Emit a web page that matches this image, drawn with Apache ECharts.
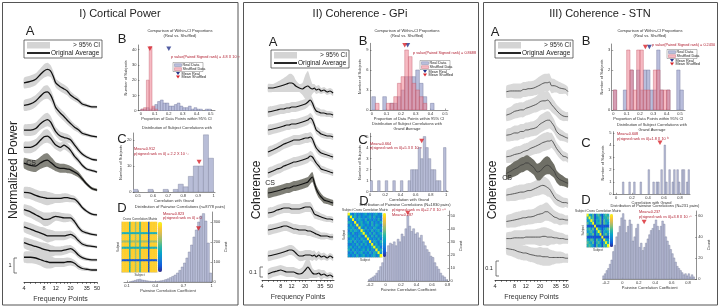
<!DOCTYPE html>
<html>
<head>
<meta charset="utf-8">
<script src="https://cdn.jsdelivr.net/npm/echarts@6/dist/echarts.min.js"></script>
<style>html,body{margin:0;padding:0;background:#fff}#main{width:720px;height:308px}</style>
</head>
<body>
<div id="main"></div>
<script>
// ---- data ----
var freqTicks = [4, 8, 12, 20, 35, 50];
var freqMinorTicks = [4, 5, 6, 7, 8, 9, 10, 12, 14, 16, 18, 20, 25, 30, 35, 40, 45, 50];

// I) cortical power: height of each subject curve above its own tail (normalized power)
var powerFreq = [4, 5, 6, 7, 8, 9, 10, 11, 12, 14, 16, 18, 20, 23, 26, 30, 35, 42, 50];
var powerCurves = [
  [1.6, 1.7, 1.85, 2.15, 2.4, 2.5, 2.4, 2.05, 1.6, 1.35, 1.2, 1.05, 0.8, 0.6, 0.45, 0.2, 0.1, 0, 0],
  [2.1, 2.2, 2.4, 2.7, 2.95, 3.0, 2.8, 2.4, 1.95, 1.6, 1.35, 1.1, 0.9, 0.65, 0.5, 0.25, 0.15, 0.05, 0],
  [2.0, 2.0, 2.1, 2.4, 2.6, 2.7, 2.55, 2.2, 1.9, 1.6, 1.5, 1.45, 1.35, 1.0, 0.7, 0.4, 0.2, 0.05, 0],
  [1.65, 1.65, 1.8, 2.1, 2.35, 2.4, 2.25, 2.0, 1.8, 1.65, 1.8, 1.65, 1.45, 1.05, 0.8, 0.45, 0.2, 0.1, 0],
  [1.8, 1.65, 1.6, 1.8, 1.95, 2.0, 1.85, 1.7, 1.55, 1.45, 1.45, 1.4, 1.35, 1.2, 1.05, 0.75, 0.4, 0.1, 0],
  [1.5, 1.45, 1.3, 1.2, 1.15, 1.1, 1.1, 1.1, 1.1, 1.1, 1.15, 1.15, 1.1, 1.05, 0.85, 0.5, 0.25, 0.05, 0],
  [1.7, 1.55, 1.35, 1.2, 1.05, 1.05, 1.1, 1.2, 1.25, 1.2, 1.15, 1.15, 1.15, 0.9, 0.55, 0.25, 0.15, 0.05, 0],
  [1.35, 1.2, 1.05, 0.95, 0.85, 0.75, 0.75, 0.75, 0.75, 0.75, 0.75, 0.8, 0.85, 0.7, 0.45, 0.2, 0.1, 0.05, 0],
  [1.15, 1.0, 0.9, 0.8, 0.7, 0.65, 0.6, 0.6, 0.6, 0.6, 0.65, 0.7, 0.75, 0.6, 0.35, 0.15, 0.05, 0, 0],
  [0.85, 0.85, 0.8, 0.7, 0.6, 0.55, 0.5, 0.5, 0.5, 0.5, 0.5, 0.55, 0.55, 0.45, 0.25, 0.1, 0.05, 0, 0]
];
var powerCI = [0.35, 0.4, 0.4, 0.4, 0.45, 0.45, 0.4, 0.35, 0.3, 0.3, 0.3, 0.28, 0.25, 0.22, 0.2, 0.15, 0.12, 0.1, 0.08];

// II) coherence GPi
var gpiFreq = [5, 6, 7, 8, 9, 10, 11, 12, 13, 14, 16, 18, 20, 22, 24, 26, 28, 30, 33, 36, 40, 45, 50, 56];
var gpiCurves = [
  [0.05, 0.05, 0.06, 0.07, 0.08, 0.09, 0.10, 0.10, 0.09, 0.07, 0.05, 0.04, 0.06, 0.07, 0.05, 0.04, 0.05, 0.03, 0.04, 0.02, 0.03, 0.01, 0.02, 0],
  [0.03, 0.04, 0.05, 0.06, 0.06, 0.07, 0.07, 0.08, 0.08, 0.08, 0.09, 0.10, 0.11, 0.13, 0.15, 0.12, 0.07, 0.04, 0.03, 0.02, 0.02, 0.01, 0.01, 0],
  [0.07, 0.08, 0.09, 0.10, 0.11, 0.12, 0.12, 0.13, 0.13, 0.13, 0.14, 0.15, 0.16, 0.17, 0.19, 0.17, 0.12, 0.07, 0.05, 0.03, 0.02, 0.01, 0.01, 0],
  [0.05, 0.07, 0.09, 0.11, 0.13, 0.14, 0.15, 0.16, 0.17, 0.17, 0.17, 0.18, 0.19, 0.19, 0.20, 0.18, 0.13, 0.09, 0.06, 0.04, 0.03, 0.02, 0.01, 0],
  [0.0, 0.02, 0.04, 0.05, 0.07, 0.08, 0.09, 0.10, 0.11, 0.11, 0.12, 0.13, 0.14, 0.15, 0.17, 0.16, 0.13, 0.10, 0.07, 0.04, 0.03, 0.02, 0.01, 0],
  [0.10, 0.11, 0.12, 0.13, 0.14, 0.15, 0.15, 0.16, 0.17, 0.17, 0.18, 0.19, 0.20, 0.21, 0.24, 0.26, 0.20, 0.14, 0.09, 0.06, 0.03, 0.02, 0.01, 0],
  [0.07, 0.08, 0.10, 0.11, 0.12, 0.12, 0.12, 0.11, 0.11, 0.11, 0.11, 0.12, 0.13, 0.13, 0.13, 0.10, 0.06, 0.05, 0.04, 0.03, 0.02, 0.01, 0.01, 0],
  [0.07, 0.08, 0.09, 0.10, 0.11, 0.11, 0.10, 0.09, 0.08, 0.08, 0.07, 0.07, 0.07, 0.06, 0.06, 0.05, 0.04, 0.03, 0.02, 0.01, 0.01, 0.01, 0.0, 0],
  [0.02, 0.03, 0.04, 0.05, 0.06, 0.07, 0.08, 0.08, 0.07, 0.05, 0.02, 0.02, 0.03, 0.03, 0.03, 0.02, 0.03, 0.01, 0.03, 0.01, 0.02, 0.0, 0.02, 0],
  [0.03, 0.05, 0.06, 0.07, 0.06, 0.05, 0.05, 0.05, 0.05, 0.04, 0.03, 0.04, 0.07, 0.10, 0.07, 0.04, 0.03, 0.03, 0.04, 0.02, 0.03, 0.01, 0.02, 0]
];
var gpiCI = [0.05, 0.05, 0.05, 0.05, 0.05, 0.05, 0.05, 0.05, 0.05, 0.05, 0.05, 0.05, 0.05, 0.05, 0.05, 0.05, 0.045, 0.04, 0.04, 0.035, 0.035, 0.03, 0.03, 0.03];
var gpiWideCI = {
  0: [0.04, 0.04, 0.05, 0.06, 0.07, 0.08, 0.09, 0.09, 0.08, 0.06, 0.04, 0.06, 0.12, 0.15, 0.10, 0.05, 0.04, 0.04, 0.04, 0.03, 0.03, 0.03, 0.03, 0.03],
  9: [0.05, 0.05, 0.05, 0.05, 0.05, 0.05, 0.05, 0.05, 0.05, 0.05, 0.05, 0.06, 0.09, 0.12, 0.08, 0.05, 0.04, 0.04, 0.04, 0.05, 0.04, 0.03, 0.03, 0.03]
};

// III) coherence STN
var stnFreq = [6, 7, 8, 9, 10, 11, 12, 13, 14, 16, 18, 20, 22, 24, 26, 28, 30, 33, 36, 40, 45, 50, 54];
var stnCurves = [
  [0, 0.005, 0.005, 0.005, 0.005, 0.015, 0.015, 0.02, 0.02, 0.025, 0.035, 0.045, 0.055, 0.06, 0.06, 0.065, 0.04, 0.04, 0.035, 0.025, 0.02, 0.015, 0],
  [0.01, 0.02, 0.035, 0.04, 0.045, 0.045, 0.055, 0.06, 0.065, 0.075, 0.085, 0.1, 0.105, 0.105, 0.11, 0.1, 0.08, 0.06, 0.04, 0.02, 0.005, 0, 0],
  [0.02, 0.025, 0.035, 0.035, 0.045, 0.045, 0.055, 0.055, 0.06, 0.065, 0.075, 0.095, 0.105, 0.115, 0.12, 0.12, 0.105, 0.08, 0.045, 0.025, 0.015, 0.005, 0],
  [0.01, 0.015, 0.025, 0.03, 0.035, 0.045, 0.05, 0.055, 0.065, 0.075, 0.085, 0.095, 0.105, 0.11, 0.115, 0.115, 0.12, 0.095, 0.065, 0.04, 0.015, 0.01, 0],
  [0.065, 0.08, 0.095, 0.105, 0.12, 0.125, 0.135, 0.135, 0.125, 0.105, 0.075, 0.08, 0.1, 0.115, 0.12, 0.115, 0.1, 0.08, 0.045, 0.025, 0.015, 0.005, 0],
  [0.055, 0.06, 0.065, 0.07, 0.075, 0.075, 0.08, 0.085, 0.085, 0.095, 0.105, 0.115, 0.12, 0.115, 0.105, 0.095, 0.075, 0.045, 0.025, 0.015, 0.005, 0.005, 0],
  [-0.01, -0.005, 0, 0.005, 0.01, 0.015, 0.015, 0.02, 0.02, 0.025, 0.035, 0.04, 0.045, 0.055, 0.055, 0.045, 0.035, 0.02, 0.015, 0.005, 0.005, 0, 0],
  [0.005, 0.005, 0.01, 0.01, 0.01, 0.01, 0.015, 0.015, 0.015, 0.015, 0.015, 0.015, 0.02, 0.02, 0.015, 0.015, 0.015, 0.01, 0.01, 0.005, 0.005, 0, 0],
  [0.065, 0.06, 0.055, 0.045, 0.04, 0.035, 0.035, 0.03, 0.025, 0.02, 0.015, 0.015, 0.01, 0.01, 0.01, 0.005, 0.005, 0.005, 0.005, 0.005, 0.005, 0, 0]
];
var stnCI = [0.04, 0.045, 0.05, 0.05, 0.05, 0.05, 0.05, 0.05, 0.05, 0.05, 0.055, 0.06, 0.06, 0.06, 0.06, 0.055, 0.05, 0.045, 0.04, 0.04, 0.035, 0.03, 0.03];

// B: proportion of points within CI (counts per bin)
var powerWithinReal = [1, 1, 2, 1, 2, 4, 6, 7, 5, 5, 3, 3, 4, 5, 3, 2, 2, 3, 1, 2, 1, 1, 0, 1, 1];
var powerWithinShuf = [1, 2, 20, 42, 3, 1, 0, 0, 0, 0, 0, 0, 0, 0, 0, 0, 0, 0, 0, 0, 0, 0, 0, 0, 0];
var gpiWithinReal = [2, 0, 0, 2, 0, 1, 1, 2, 3, 5, 5, 5, 6, 4, 2, 0, 1, 0, 0, 0];
var gpiWithinShuf = [0, 1, 0, 0, 1, 1, 2, 4, 5, 9, 8, 4, 3, 2, 1, 0, 0, 0, 0, 0];
var stnWithinReal = [1, 0, 0, 1, 0, 2, 0, 2, 1, 2, 2, 1, 1, 3, 1, 0, 1, 0, 0, 2, 1, 0];
var stnWithinShuf = [1, 0, 0, 0, 3, 2, 1, 3, 3, 1, 1, 0, 2, 2, 1, 1, 1, 0, 0, 0, 0, 0];
var withinMeans = [[0.2, 0.065], [0.245, 0.225], [0.27, 0.24]]; // [real, shuffled]

// C: subject correlation with grand average
var powerCorr = [1, 0, 0, 1, 0, 0, 1, 0, 1, 3, 2, 6, 10, 10, 22, 13];
var gpiCorr = [1, 0, 0, 1, 0, 0, 1, 0, 0, 1, 0, 0, 1, 0, 0, 1, 2, 2, 2, 4, 3, 5, 4, 3, 2, 2, 1, 1, 0, 4];
var stnCorr = [0, 0, 0, 0, 1, 0, 0, 0, 1, 0, 0, 1, 0, 0, 0, 1, 0, 0, 0, 0, 2, 0, 0, 1, 0, 1, 1, 0, 2, 0,
  4, 1, 0, 2, 0, 1, 2, 0, 2, 1, 0, 2, 2, 0, 1, 2];
var corrMeans = [0.905, 0.68, 0.55];

// D: pairwise correlations
var powerPairs = [0, 2, 5, 8, 12, 14, 10, 8, 6, 4, 3, 2, 3, 4, 6, 8, 12, 16, 22, 28, 35, 45, 58, 75, 95, 120,
  150, 185, 225, 260, 300, 330, 342, 305, 195, 45];
var gpiPairs = [1, 2, 3, 4, 6, 8, 11, 14, 18, 22, 27, 29, 28, 30, 27, 32, 30, 36, 34, 40, 50, 42, 38, 40, 36,
  37, 33, 35, 30, 27, 24, 22, 19, 18, 14, 11, 9, 6, 4, 3, 1];
var stnPairs = [3, 5, 8, 10, 14, 18, 26, 32, 40, 44, 50, 58, 62, 56, 44, 50, 56, 52, 36, 40, 48, 52, 30, 34,
  27, 30, 34, 38, 42, 46, 48, 52, 56, 50, 46, 50, 55, 52, 40, 36, 32, 28, 24, 20, 16, 12, 10, 8, 6, 4, 5, 3, 5, 2, 4, 2];
var pairMeans = [0.86, 0.287, 0.265];

// correlation matrices, one digit per cell (0..9)
var powerMatrix = [
  '888884888688488888188888', '888884888688488888188888', '888884888688488888188888',
  '888884888688488888188888', '888884888688488888188888', '444444444444444444144444',
  '888884888688488888188888', '888884888688488888188888', '888884888688488888188888',
  '666664666666466666166666', '888884888688488888188888', '888884888688488888188888',
  '444444444444444444144444', '888884888688488888188888', '888884888688488888188888',
  '888884888688488888188888', '888884888688488888188888', '888884888688488888188888',
  '111111111111111111111111', '888884888688488888188888', '888884888688488888188888',
  '888884888688488888188888', '888884888688488888188888', '888884888688488888188888'
];
var gpiMatrix = [
  '9324232342323423', '3934242323424232', '2392343242323242', '4329234234242324',
  '2423924323242432', '3342293242324323', '2434329423242342', '3242234932424234',
  '4323242293242423', '2342324329323242', '3424232432924324', '2232424242392423',
  '3423242323249342', '4242323424232934', '2324234232424393', '3232423423234239'
];
var stnMatrix = [
  '943514531454', '494513451445', '349514351534', '534914451543', '111191111111', '453519431345',
  '345314951434', '534514391453', '111111119111', '435415341943', '543514531494', '454315341549'
];

// ---- drawing ----
var FONT = 'Liberation Sans, Arial, sans-serif';
var PARULA = ['#352A87', '#0F5CDD', '#1481D6', '#06A4CA', '#2EB7A4', '#87BF77', '#D1BB59', '#FEC832', '#F9FB0E'];
var BLUE_FILL = '#b9bedc', BLUE_EDGE = '#6a6f95';
var RED_FILL = 'rgba(238,130,145,0.55)', RED_EDGE = '#c05868';
var BAR_FILL = '#b8bdd7', BAR_EDGE = '#767b98';
var RED_TXT = '#b01c2e';

var grids = [], xAxes = [], yAxes = [], series = [], visualMaps = [], gfx = [];

function addGrid(b) {
  grids.push({left: b[0], top: b[1], width: b[2], height: b[3]});
  return grids.length - 1;
}
function lg(list) { return list.map(function (f) { return Math.log10(f); }); }

function spectra(b, freqs, curves, ci, wide, offsets, cs, yMax, xMax, st) {
  var g = addGrid(b);
  xAxes.push({gridIndex: g, type: 'value', min: Math.log10(4), max: Math.log10(xMax),
    name: 'Frequency Points', nameLocation: 'middle', nameGap: 11,
    nameTextStyle: {fontSize: 7, color: '#333', fontFamily: FONT},
    axisLine: {lineStyle: {color: '#222', width: 0.8}},
    axisTick: {length: 2, lineStyle: {color: '#222', width: 0.5}, customValues: lg(freqMinorTicks)},
    axisLabel: {fontSize: 5.5, color: '#222', margin: 3, fontFamily: FONT, customValues: lg(freqTicks),
      formatter: function (v) { return String(Math.round(Math.pow(10, v))); }},
    splitLine: {show: false}});
  yAxes.push({gridIndex: g, type: 'value', min: 0, max: yMax, show: false});
  var order = [];
  curves.forEach(function (c, k) { if (k !== cs) order.push([k]); });
  order.push([cs]);
  series.push({type: 'custom', xAxisIndex: g, yAxisIndex: g, silent: true, data: order,
    renderItem: function (params, api) {
      var k = api.value(0), c = curves[k], w = wide[k] || ci, up = [], lo = [];
      for (var j = 0; j < freqs.length; j++) {
        var x = Math.log10(freqs[j]);
        up.push(api.coord([x, offsets[k] + c[j] + w[j]]));
        lo.unshift(api.coord([x, offsets[k] + c[j] - w[j]]));
      }
      return {type: 'polygon', shape: {points: up.concat(lo), smooth: 0.2},
        style: {fill: k === cs ? st.cs : st.ci}};
    }});
  curves.forEach(function (c, k) {
    series.push({type: 'line', xAxisIndex: g, yAxisIndex: g, symbol: 'none', smooth: 0.25, silent: true, z: 3,
      lineStyle: {color: st.line, width: st.width},
      data: c.map(function (v, j) { return [Math.log10(freqs[j]), offsets[k] + v]; })});
  });
}

function histGrid(b, o) {
  var g = addGrid(b);
  var small = {fontSize: 4, color: '#333', fontFamily: FONT};
  xAxes.push({gridIndex: g, type: 'value', min: o.xMin, max: o.xMax, name: o.xName, nameLocation: 'middle',
    nameGap: 6, nameTextStyle: small,
    axisLine: {onZero: false, lineStyle: {color: '#444', width: 0.6}},
    axisTick: {inside: true, length: 1.5, customValues: o.xTicks, lineStyle: {color: '#444', width: 0.5}},
    axisLabel: {fontSize: 4, color: '#333', margin: 1.5, fontFamily: FONT, customValues: o.xTicks},
    splitLine: {show: false}});
  yAxes.push({gridIndex: g, type: 'value', min: 0, max: o.yMax, position: o.right ? 'right' : 'left',
    name: o.yName, nameLocation: 'middle', nameGap: o.right ? 9 : 7, nameTextStyle: small,
    axisLine: {show: true, onZero: false, lineStyle: {color: '#444', width: 0.6}},
    axisTick: {inside: true, length: 1.5, customValues: o.yTicks, lineStyle: {color: '#444', width: 0.5}},
    axisLabel: {fontSize: 4, color: '#333', margin: 1.5, fontFamily: FONT, customValues: o.yTicks},
    splitLine: {show: false}});
  return g;
}

function hist(g, start, width, counts, fill, edge) {
  var data = [];
  counts.forEach(function (c, i) { if (c > 0) data.push([start + i * width, start + (i + 1) * width, c]); });
  series.push({type: 'custom', xAxisIndex: g, yAxisIndex: g, silent: true, clip: true, data: data,
    encode: {x: [0, 1], y: 2},
    renderItem: function (params, api) {
      var p0 = api.coord([api.value(0), api.value(2)]);
      var p1 = api.coord([api.value(1), 0]);
      return {type: 'rect', shape: {x: p0[0], y: p0[1], width: p1[0] - p0[0], height: p1[1] - p0[1]},
        style: {fill: fill, stroke: edge, lineWidth: 0.4}};
    }});
}

function marker(g, x, y, color) {
  series.push({type: 'scatter', xAxisIndex: g, yAxisIndex: g, data: [[x, y]], symbol: 'triangle',
    symbolRotate: 180, symbolSize: [5, 4.5], itemStyle: {color: color}, silent: true, z: 6});
}

function matrix(b, rows, vm) {
  var g = addGrid(b);
  var idx = rows.map(function (r, i) { return String(i + 1); });
  var nm = {fontSize: 3, color: '#333', fontFamily: FONT};
  xAxes.push({gridIndex: g, type: 'category', data: idx, name: 'Subject', nameLocation: 'middle', nameGap: 2,
    nameTextStyle: nm, axisLine: {lineStyle: {color: '#555', width: 0.4}}, axisTick: {show: false},
    axisLabel: {show: false}});
  yAxes.push({gridIndex: g, type: 'category', data: idx, inverse: true, name: 'Subject', nameLocation: 'middle',
    nameGap: 2, nameTextStyle: nm, axisLine: {lineStyle: {color: '#555', width: 0.4}}, axisTick: {show: false},
    axisLabel: {show: false}});
  var data = [];
  rows.forEach(function (r, i) {
    for (var j = 0; j < r.length; j++) data.push([j, i, +r.charAt(j)]);
  });
  series.push({type: 'heatmap', xAxisIndex: g, yAxisIndex: g, data: data, silent: true, z: 8});
  visualMaps.push({type: 'continuous', seriesIndex: series.length - 1, min: 0, max: 9, calculable: false,
    inRange: {color: PARULA}, left: vm[0], top: vm[1], itemWidth: vm[2], itemHeight: vm[3], padding: 0,
    orient: 'vertical', hoverLink: false});
}

// graphic helpers
function T(x, y, text, size, o) {
  o = o || {};
  gfx.push({type: 'text', x: x, y: y, rotation: o.rot || 0, silent: true, z: 20,
    style: {text: text, fill: o.color || '#222', font: (o.weight || 'normal') + ' ' + size + 'px ' + FONT,
      textAlign: o.align || 'center', textVerticalAlign: 'middle', align: o.align || 'center', verticalAlign: 'middle'}});
}
function R(x, y, w, h, fill, stroke, lw) {
  gfx.push({type: 'rect', silent: true, z: 20, shape: {x: x, y: y, width: w, height: h},
    style: {fill: fill || 'none', stroke: stroke || null, lineWidth: lw || 0.5}});
}
function Ln(pts, color, lw) {
  gfx.push({type: 'polyline', silent: true, z: 20, shape: {points: pts},
    style: {stroke: color, lineWidth: lw, fill: null}});
}
function Tri(x, y, color) {
  gfx.push({type: 'polygon', silent: true, z: 20, shape: {points: [[x - 2, y - 1.6], [x + 2, y - 1.6], [x, y + 1.6]]},
    style: {fill: color}});
}
function legendA(x, y) {
  R(x, y, 78, 18, 'none', '#333', 0.7);
  R(x + 3, y + 2, 23, 6.5, '#d4d4d4', null);
  T(x + 76, y + 5.5, '> 95% CI', 6.5, {align: 'right'});
  Ln([[x + 3, y + 13], [x + 26, y + 13]], '#111', 1.8);
  T(x + 27, y + 13, 'Original Average', 6.5, {align: 'left'});
}
function legendB(x, y) {
  R(x, y, 30, 9, 'none', '#555', 0.4);
  R(x + 1.5, y + 1.2, 7, 2.8, BLUE_FILL, BLUE_EDGE, 0.4);
  T(x + 9.5, y + 2.6, 'Real Data', 3.8, {align: 'left'});
  R(x + 1.5, y + 5.2, 7, 2.8, RED_FILL, RED_EDGE, 0.4);
  T(x + 9.5, y + 6.6, 'Shuffled Data', 3.8, {align: 'left'});
  Tri(x + 5, y + 11, '#27348b');
  T(x + 8.5, y + 11, 'Mean Real', 3.8, {align: 'left'});
  Tri(x + 5, y + 14.5, '#d8232a');
  T(x + 8.5, y + 14.5, 'Mean Shuffled', 3.8, {align: 'left'});
}
function scaleBar(x, y0, y1, label, lx) {
  Ln([[x + 3, y0], [x, y0], [x, y1], [x + 3, y1]], '#444', 0.7);
  T(lx, (y0 + y1) / 2, label, 5.5);
}

// ---------- panel I : cortical power ----------
spectra([24, 60, 73, 222], powerFreq, powerCurves, powerCI, {},
  [11.67, 9.67, 8.13, 7.33, 6.13, 4.47, 3.13, 2.33, 1.47, 0.8], 4, 14.8, 50,
  {line: '#111', width: 1.3, ci: '#d4d4d4', cs: '#85857d'});
// ---------- panel II : GPi ----------
spectra([262, 65, 72, 215], gpiFreq, gpiCurves, gpiCI, gpiWideCI,
  [1.87, 1.65, 1.43, 1.23, 1.07, 0.77, 0.60, 0.43, 0.22, 0.03], 5, 2.15, 58,
  {line: '#111', width: 1.2, ci: '#d6d6d6', cs: '#7f7f77'});
// ---------- panel III : STN ----------
spectra([495, 65, 73, 215], stnFreq, stnCurves, stnCI, {},
  [1.255, 1.089, 0.945, 0.811, 0.645, 0.511, 0.4, 0.271, 0.145], 4, 1.433, 54,
  {line: '#3a3a3a', width: 0.8, ci: '#d9d9d9', cs: '#6f6f66'});

var propName = 'Proportion of Data Points within 95% CI';
var subjName = 'Number of Subjects';

// B panels
var gB1 = histGrid([138, 45, 77, 65.7], {xMin: -0.02, xMax: 0.53, xTicks: [0, 0.1, 0.2, 0.3, 0.4, 0.5],
  yMax: 43, yTicks: [0, 10, 20, 30, 40], xName: propName, yName: subjName});
hist(gB1, 0, 0.02, powerWithinReal, BLUE_FILL, BLUE_EDGE);
hist(gB1, 0, 0.02, powerWithinShuf, RED_FILL, RED_EDGE);
marker(gB1, withinMeans[0][0], 40.5, '#27348b');
marker(gB1, withinMeans[0][1], 40.5, '#d8232a');

var gB2 = histGrid([370, 43.3, 78, 66.7], {xMin: -0.012, xMax: 0.52, xTicks: [0, 0.1, 0.2, 0.3, 0.4, 0.5],
  yMax: 10, yTicks: [0, 3, 6, 9], xName: propName, yName: subjName});
hist(gB2, 0, 0.025, gpiWithinReal, BLUE_FILL, BLUE_EDGE);
hist(gB2, 0, 0.025, gpiWithinShuf, RED_FILL, RED_EDGE);
marker(gB2, withinMeans[1][0], 9.7, '#27348b');
marker(gB2, withinMeans[1][1], 9.7, '#d8232a');

var gB3 = histGrid([611.7, 44, 73.3, 66], {xMin: -0.012, xMax: 0.537, xTicks: [0, 0.1, 0.2, 0.3, 0.4, 0.5],
  yMax: 3.3, yTicks: [0, 1, 2, 3], xName: propName, yName: subjName});
hist(gB3, 0, 0.025, stnWithinReal, BLUE_FILL, BLUE_EDGE);
hist(gB3, 0, 0.025, stnWithinShuf, RED_FILL, RED_EDGE);
marker(gB3, withinMeans[2][0], 3.15, '#27348b');
marker(gB3, withinMeans[2][1], 3.15, '#d8232a');

// C panels
var gC1 = histGrid([133, 133, 82, 59], {xMin: 0.467, xMax: 1.01, xTicks: [0.5, 0.6, 0.7, 0.8, 0.9, 1],
  yMax: 22.7, yTicks: [0, 10, 20], xName: 'Correlation with Grand', yName: subjName});
hist(gC1, 0.4667, 1 / 30, powerCorr, BAR_FILL, BAR_EDGE);
marker(gC1, corrMeans[0], 11.5, '#d8232a');

var gC2 = histGrid([370, 133.3, 78, 58.4], {xMin: 0, xMax: 1.026, xTicks: [0, 0.2, 0.4, 0.6, 0.8, 1],
  yMax: 5.3, yTicks: [0, 1, 2, 3, 4, 5], xName: 'Correlation with Grand', yName: subjName});
hist(gC2, 0, 1 / 30, gpiCorr, BAR_FILL, BAR_EDGE);
marker(gC2, corrMeans[1], 4.6, '#d8232a');

var gC3 = histGrid([613, 131.7, 77, 62.6], {xMin: -0.0375, xMax: 0.925, xTicks: [0, 0.2, 0.4, 0.6, 0.8],
  yMax: 5.09, yTicks: [0, 1, 2, 3, 4, 5], xName: 'Correlation with Grand', yName: subjName});
hist(gC3, 0, 0.02, stnCorr, BAR_FILL, BAR_EDGE);
marker(gC3, corrMeans[2], 4.2, '#d8232a');

// D panels
var pairName = 'Pairwise Correlation Coefficient';
var gD1 = histGrid([124, 212, 88, 70], {xMin: 0.068, xMax: 1.003, xTicks: [0.1, 0.4, 0.7, 1],
  yMax: 350, yTicks: [0, 100, 200, 300], right: true, xName: pairName, yName: 'Count'});
hist(gD1, 0.1, 0.025, powerPairs, BAR_FILL, BAR_EDGE);
marker(gD1, pairMeans[0], 267, '#d8232a');

var gD2 = histGrid([368, 211, 81, 70], {xMin: -0.226, xMax: 0.819, xTicks: [-0.2, 0, 0.2, 0.4, 0.6, 0.8],
  yMax: 53.6, yTicks: [0, 10, 20, 30, 40, 50], right: true, xName: pairName, yName: 'Count'});
hist(gD2, -0.225, 0.025, gpiPairs, BAR_FILL, BAR_EDGE);
marker(gD2, pairMeans[1], 52, '#d8232a');

var gD3 = histGrid([602.7, 211, 94, 68], {xMin: -0.24, xMax: 0.906, xTicks: [-0.2, 0, 0.2, 0.4, 0.6, 0.8],
  yMax: 64.5, yTicks: [0, 20, 40, 60], right: true, xName: pairName, yName: 'Count'});
hist(gD3, -0.24, 0.02, stnPairs, BAR_FILL, BAR_EDGE);
marker(gD3, pairMeans[2], 54, '#d8232a');

// correlation matrix insets
matrix([122, 222, 35, 50], powerMatrix, [158, 222, 4, 50]);
matrix([348, 213, 34, 44], gpiMatrix, [383, 213, 3, 44]);
matrix([587, 214, 22, 33], stnMatrix, [610, 214, 3, 33]);

// ---------- annotations ----------
R(2.5, 2.5, 235.5, 302.5, 'none', '#555', 1);
R(243.5, 2.5, 235, 302.5, 'none', '#555', 1);
R(483.5, 2.5, 234, 302.5, 'none', '#555', 1);

T(120, 14, 'I) Cortical Power', 11);
T(360, 14, 'II) Coherence - GPi', 11);
T(600, 14, 'III) Coherence - STN', 11);

[[30, 31, 'A'], [122, 39, 'B'], [122, 139, 'C'], [122, 208, 'D'],
 [273, 42, 'A'], [363, 41, 'B'], [363, 140, 'C'], [364, 201, 'D'],
 [495, 32, 'A'], [586, 41, 'B'], [586, 143, 'C'], [586, 200, 'D']].forEach(function (p) {
  T(p[0], p[1], p[2], 13);
});

T(14, 170, 'Normalized Power', 12, {rot: Math.PI / 2});
T(257, 190, 'Coherence', 12, {rot: Math.PI / 2});
T(493, 190, 'Coherence', 12, {rot: Math.PI / 2});

legendA(24, 40);
legendA(271, 50);
legendA(495, 40);

T(31, 163, 'CS', 7);
T(270, 183, 'CS', 7);
T(507, 178, 'CS', 7);

scaleBar(14, 258, 273, '1', 10);
scaleBar(260, 267, 277, '0.1', 253);
scaleBar(496, 261, 276, '0.1', 489);

legendB(173, 62.5);
legendB(420, 60.5);
legendB(667, 49.5);

var subT = {color: '#333'};
T(180, 31, 'Comparison of Within-CI Proportions', 4, subT);
T(180, 36, '(Real vs. Shuffled)', 4, subT);
T(407, 31, 'Comparison of Within-CI Proportions', 4, subT);
T(407, 36, '(Real vs. Shuffled)', 4, subT);
T(650, 31, 'Comparison of Within-CI Proportions', 4, subT);
T(650, 36, '(Real vs. Shuffled)', 4, subT);
T(177, 128, 'Distribution of Subject Correlations with', 4, subT);
T(407, 124, 'Distribution of Subject Correlations with', 4, subT);
T(407, 129, 'Grand Average', 4, subT);
T(652, 125, 'Distribution of Subject Correlations with', 4, subT);
T(652, 130, 'Grand Average', 4, subT);
T(180, 207, 'Distribution of Pairwise Correlations (n=8778 pairs)', 4, subT);
T(405, 205, 'Distribution of Pairwise Correlations (N=1830 pairs)', 4, subT);
T(655, 206, 'Distribution of Pairwise Correlations (N=231 pairs)', 4, subT);
T(140, 219.5, 'Cross Correlation Matrix', 3.2, subT);
T(365, 210.5, 'Subject Cross Correlation Matrix', 3.2, subT);
T(598, 211.5, 'Subject Cross Correlation Matrix', 3.2, subT);

var red = {color: RED_TXT, align: 'left'};
T(171, 57, 'p value(Paired Signed rank) = 4.8 X 10\u207B\u00B9\u00B9', 3.8, red);
T(413, 53, 'p value(Paired Signed rank) = 0.8688', 3.8, red);
T(652, 45, 'p value(Paired Signed rank) = 0.2430', 3.8, red);
T(134, 149, 'Mean=0.912', 3.8, red);
T(134, 153.5, 'p(signed rank vs 0) = 2.2 X 10\u207B\u2077\u00B3', 3.8, red);
T(370, 143.5, 'Mean=0.664', 3.8, red);
T(370, 148, 'p(signed rank vs 0)=5.3 X 10\u207B\u00B9\u00B9', 3.8, red);
T(617, 134, 'Mean=0.608', 3.8, red);
T(617, 138.5, 'p(signed rank vs 0)=1.8 X 10\u207B\u2070\u2077', 3.8, red);
T(163, 213.5, 'Mean=0.823', 3.8, red);
T(163, 218, 'p(signed rank vs 0) = 0', 3.8, red);
T(392, 210, 'p(signed rank vs 0)=2.7 X 10\u207B\u00B2\u00B2\u2078', 3.8, red);
T(392, 214.5, 'Mean=0.287', 3.8, red);
T(639, 212, 'Mean=0.237', 3.8, red);
T(639, 216.5, 'p(signed rank vs 0)=3.8 X 10\u207B\u00B2\u2079', 3.8, red);

var chart = echarts.init(document.getElementById('main'));
chart.setOption({
  animation: false,
  backgroundColor: '#fff',
  textStyle: {fontFamily: FONT},
  grid: grids,
  xAxis: xAxes,
  yAxis: yAxes,
  visualMap: visualMaps,
  series: series,
  graphic: {elements: gfx}
});
</script>
</body>
</html>
